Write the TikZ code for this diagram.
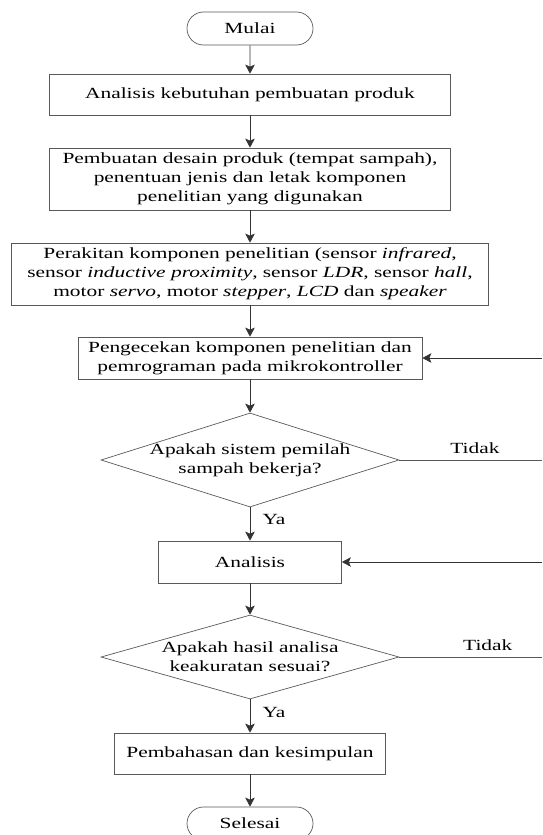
\documentclass[tikz,border=0pt]{standalone}
\usepackage{fontspec}
\setmainfont{Liberation Serif}[FakeStretch=1.38]
\usetikzlibrary{shapes.geometric,shapes.misc,arrows.meta}

\begin{document}
\begin{tikzpicture}[x=1pt,y=-1pt,
  every node/.style={font=\fontsize{15.5}{19}\selectfont},
  proses/.style={draw=black!65, line width=0.7pt, rectangle, align=center, inner sep=0pt},
  terminal/.style={draw=black!65, line width=0.7pt, rounded rectangle, minimum width=126pt, minimum height=33pt, inner sep=0pt},
  keputusan/.style={draw=black!65, line width=0.7pt, diamond, aspect=3.17, align=center, inner xsep=-4pt, inner ysep=0pt},
  garis/.style={draw=black!65, line width=0.7pt},
  alur/.style={draw=black!80, line width=0.7pt, -{Stealth[length=9pt,width=9.5pt,inset=2pt]}}]
\useasboundingbox (0,0) rectangle (542,835);

\node [terminal] (mulai) at (250,28.5) {Mulai};
\node [proses, minimum width=401pt, minimum height=41pt] (kebutuhan) at (250,94.5) {Analisis kebutuhan pembuatan produk};
\node [proses, minimum width=401pt, minimum height=62pt] (desain) at (250,179) {Pembuatan desain produk (tempat sampah),\\ penentuan jenis dan letak komponen\\ penelitian yang digunakan};
\node [proses, minimum width=477pt, minimum height=62pt] (perakitan) at (250,274) {Perakitan komponen penelitian (sensor \textit{infrared},\\ sensor \textit{inductive proximity}, sensor \textit{LDR}, sensor \textit{hall},\\ motor \textit{servo}, motor \textit{stepper}, \textit{LCD} dan \textit{speaker}};
\node [proses, minimum width=344pt, minimum height=42pt] (cek) at (250,358) {Pengecekan komponen penelitian dan\\ pemrograman pada mikrokontroller};
\node [keputusan, minimum width=298pt, minimum height=94pt] (uji1) at (250,460) {Apakah sistem pemilah\\ sampah bekerja?};
\node [proses, minimum width=183pt, minimum height=42pt] (analisis) at (250,562) {Analisis};
\node [keputusan, minimum width=298pt, minimum height=84pt] (uji2) at (250,657) {Apakah hasil analisa\\ keakuratan sesuai?};
\node [proses, minimum width=271pt, minimum height=41pt] (bahas) at (250,753.5) {Pembahasan dan kesimpulan};
\node [terminal] (selesai) at (250,823.5) {Selesai};

\coordinate (k1) at (542,460);
\coordinate (m1) at (542,358);
\coordinate (k2) at (542,657);
\coordinate (m2) at (542,562);

\draw [alur] (mulai) -- (kebutuhan);
\draw [alur] (kebutuhan) -- (desain);
\draw [alur] (desain) -- (perakitan);
\draw [alur] (perakitan) -- (cek);
\draw [alur] (cek) -- (uji1);
\draw [alur] (uji1) -- node[right, xshift=9pt, pos=0.35]{Ya} (analisis);
\draw [alur] (analisis) -- (uji2);
\draw [alur] (uji2) -- node[right, xshift=9pt, pos=0.4]{Ya} (bahas);
\draw [alur] (bahas) -- (selesai);
%jalur kembali jika tidak
\draw [garis] (uji1.east) -- node[above, pos=0.53, yshift=3pt]{Tidak} (k1);
\draw [alur] (m1) -- (cek.east);
\draw [garis] (uji2.east) -- node[above, pos=0.62, yshift=3pt]{Tidak} (k2);
\draw [alur] (m2) -- (analisis.east);

\end{tikzpicture}
\end{document}
